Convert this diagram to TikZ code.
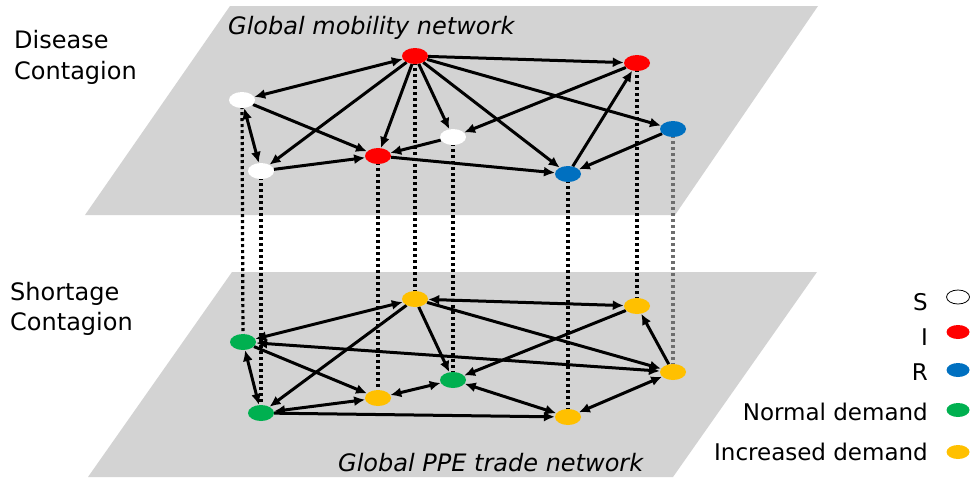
\documentclass[tikz,border=0pt]{standalone}
\usepackage{fontspec}
\setmainfont{DejaVu Sans}
\usetikzlibrary{shapes.geometric,arrows.meta}
\pgfdeclarelayer{planes}
\pgfdeclarelayer{links}
\pgfsetlayers{planes,links,main}
\definecolor{planegray}{RGB}{211,211,211}
\definecolor{nred}{RGB}{255,0,0}
\definecolor{nblue}{RGB}{0,112,192}
\definecolor{ngreen}{RGB}{0,176,80}
\definecolor{nyellow}{RGB}{255,192,0}
\definecolor{dotgray}{RGB}{110,110,110}
\tikzset{
  vert/.style={ellipse, minimum width=26pt, minimum height=16pt, inner sep=0pt, draw=none},
  sus/.style={vert, fill=white},
  inf/.style={vert, fill=nred},
  rec/.style={vert, fill=nblue},
  nrm/.style={vert, fill=ngreen},
  inc/.style={vert, fill=nyellow},
  lgd/.style={ellipse, minimum width=23pt, minimum height=14pt, inner sep=0pt},
  lbl/.style={font=\fontsize{23}{28}\selectfont, inner sep=0pt},
  side/.style={font=\fontsize{24}{28}\selectfont, inner sep=0pt},
  netname/.style={font=\fontsize{24}{28}\selectfont\itshape, inner sep=0pt},
  link/.style={line width=3pt, -{Latex[length=11pt,width=10pt]}},
  dlink/.style={line width=3pt, {Latex[length=11pt,width=10pt]}-{Latex[length=11pt,width=10pt]}},
  vdot/.style={line width=3.2pt, dash pattern=on 3pt off 3pt},
}
\begin{document}
\begin{tikzpicture}[x=1pt,y=-1pt]
\useasboundingbox (0,0) rectangle (971,477);
% planes
\begin{pgfonlayer}{planes}
\fill[planegray] (230,6) -- (818,6) -- (675,215) -- (85,215) -- cycle;
\fill[planegray] (232,272) -- (817,272) -- (673,477) -- (88,477) -- cycle;
\end{pgfonlayer}
% labels
\node[side, anchor=base west] (tl1) at (14,48) {Disease};
\node[side, anchor=base west] (tl2) at (14,79) {Contagion};
\node[side, anchor=base west] (bl1) at (10,300) {Shortage};
\node[side, anchor=base west] (bl2) at (10,330) {Contagion};
\node[netname, anchor=base west] (tn) at (228,34) {Global mobility network};
\node[netname, anchor=base west] (bn) at (338,471) {Global PPE trade network};
% top nodes
\node[inf] (I1) at (415,56) {};
\node[sus] (S1) at (242,100) {};
\node[sus] (S2) at (261,171) {};
\node[inf] (I2) at (378,156) {};
\node[sus] (S3) at (453,137) {};
\node[inf] (I3) at (637,63) {};
\node[rec] (R1) at (673,129) {};
\node[rec] (R2) at (568,174) {};
% bottom nodes
\node[inc] (Y1) at (415,299) {};
\node[nrm] (G1) at (243,342) {};
\node[nrm] (G2) at (261,413) {};
\node[inc] (Y2) at (378,398) {};
\node[nrm] (G3) at (453,380) {};
\node[inc] (Y3) at (637,306) {};
\node[inc] (Y4) at (673,372) {};
\node[inc] (Y5) at (568,417) {};
\begin{pgfonlayer}{links}
% vertical dotted links
\draw[vdot] (S1.center) -- (G1.center);
\draw[vdot] (S2.center) -- (G2.center);
\draw[vdot] (I2.center) -- (Y2.center);
\draw[vdot] (I1.center) -- (Y1.center);
\draw[vdot] (S3.center) -- (G3.center);
\draw[vdot] (R2.center) -- (Y5.center);
\draw[vdot] (I3.center) -- (Y3.center);
\draw[vdot, dotgray] (R1.center) -- (Y4.center);
% top edges
\draw[dlink] (I1) -- (S1);
\draw[link] (S1) -- (I2);
\draw[dlink] (S1) -- (S2);
\draw[link] (I1) -- (S2);
\draw[link] (I1) -- (I2);
\draw[link] (I1) -- (S3);
\draw[link] (S2) -- (I2);
\draw[link] (S3) -- (I2);
\draw[link] (I1) -- (I3);
\draw[link] (I1) -- (R2);
\draw[link] (I1) -- (R1);
\draw[link] (I3) -- (S3);
\draw[link] (R2) -- (I3);
\draw[link] (R1) -- (R2);
\draw[link] (I2) -- (R2);
% bottom edges
\draw[dlink] (Y1) -- (G1);
\draw[link] (G1) -- (Y2);
\draw[dlink] (G1) -- (G2);
\draw[link] (Y1) -- (G2);
\draw[link] (Y1) -- (G3);
\draw[dlink] (G2) -- (Y2);
\draw[dlink] (Y2) -- (G3);
\draw[dlink] (G1) -- (Y4);
\draw[link] (G2) -- (Y5);
\draw[dlink] (Y1) -- (Y3);
\draw[link] (Y1) -- (Y4);
\draw[link] (Y3) -- (G3);
\draw[dlink] (G3) -- (Y5);
\draw[link] (Y4) -- (Y3);
\draw[dlink] (Y5) -- (Y4);
\end{pgfonlayer}
% legend
\node[lbl, anchor=base east] (lS) at (928,310) {S};
\node[lbl, anchor=base east] (lI) at (928,345) {I};
\node[lbl, anchor=base east] (lR) at (928,380) {R};
\node[lbl, anchor=base east] (lN) at (928,420) {Normal demand};
\node[lbl, anchor=base east] (lInc) at (928,460) {Increased demand};
\node[lgd, fill=white, draw=black, line width=0.8pt] (eS) at (958,297) {};
\node[lgd, fill=nred] (eI) at (958,332) {};
\node[lgd, fill=nblue] (eR) at (958,370) {};
\node[lgd, fill=ngreen] (eN) at (958,410) {};
\node[lgd, fill=nyellow] (eInc) at (958,452) {};
\end{tikzpicture}
\end{document}
